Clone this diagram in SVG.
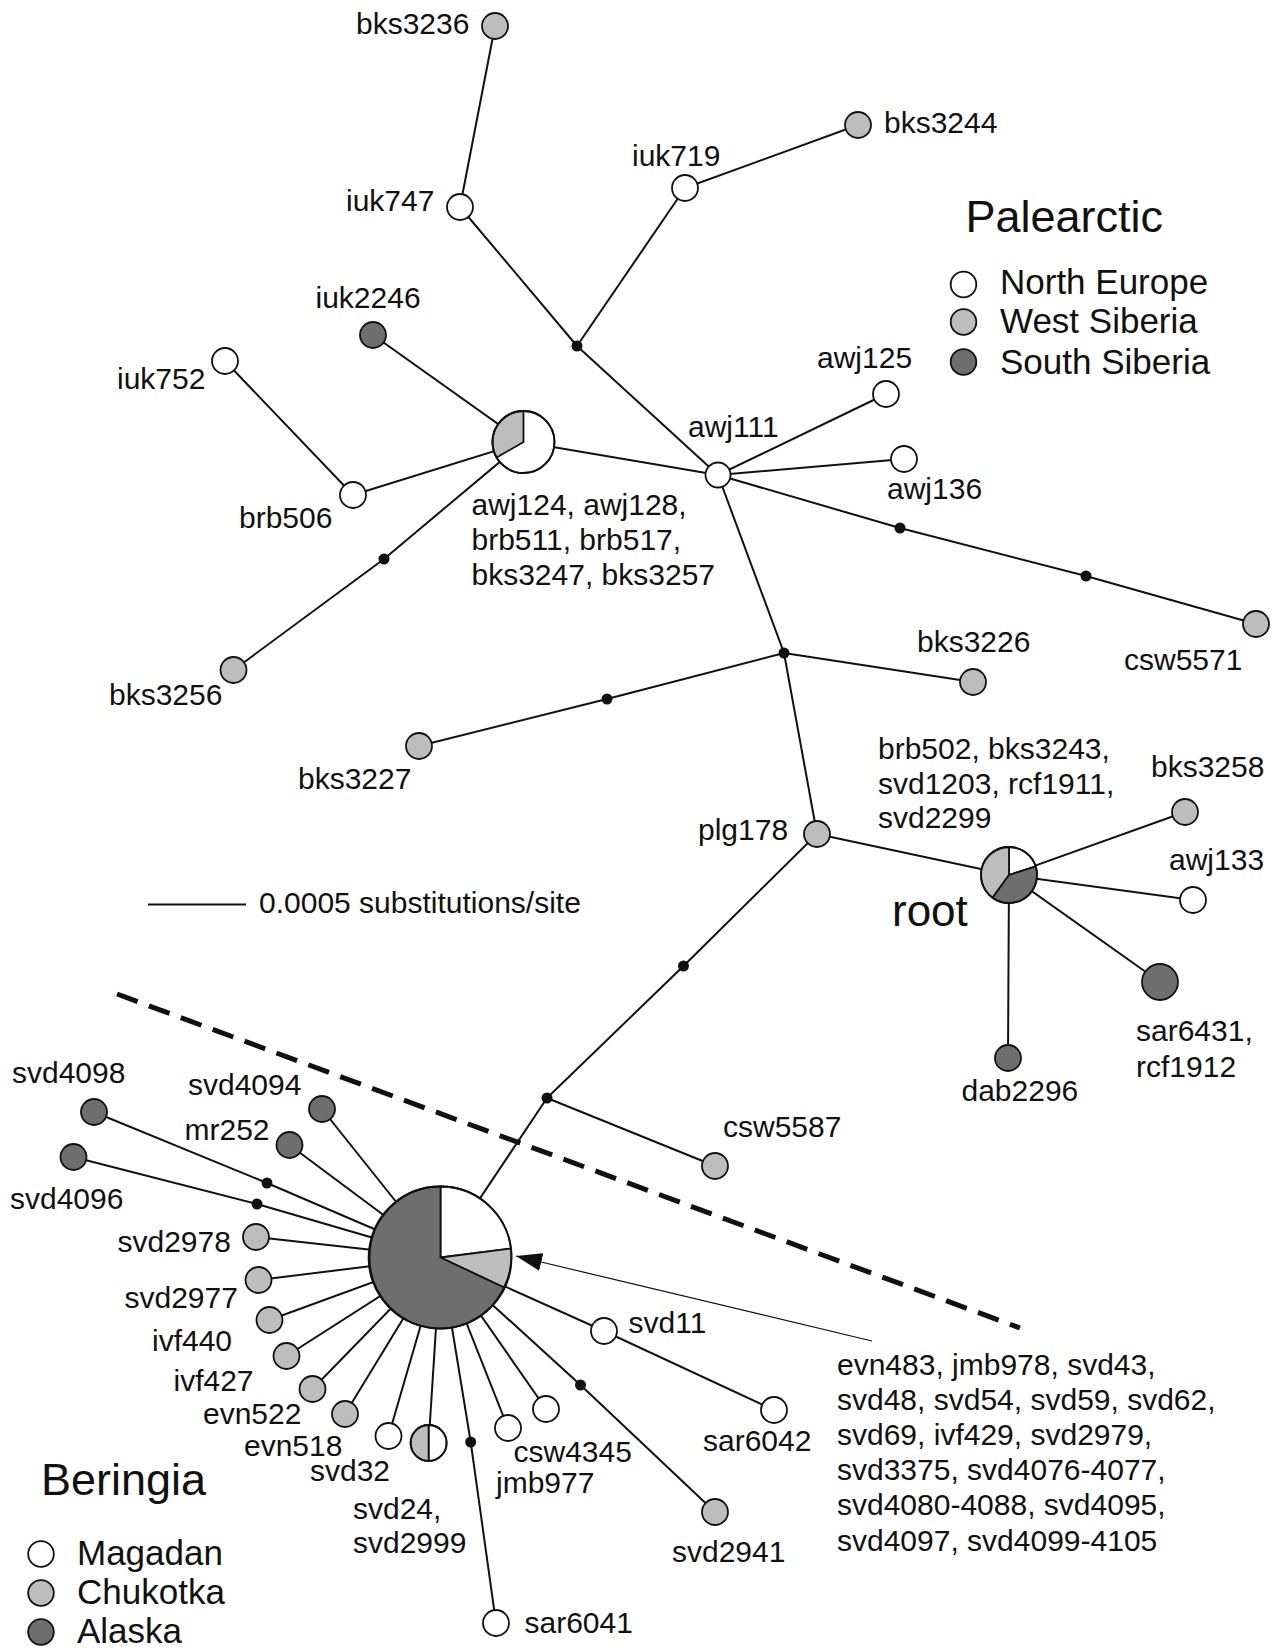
<svg xmlns="http://www.w3.org/2000/svg" width="1278" height="1649" viewBox="0 0 1278 1649">
<style>
text{font-family:"Liberation Sans",Arial,sans-serif;font-size:30px;fill:#111}
.big{font-size:45px}
.leg{font-size:35px}
.e{fill:none;stroke:#111;stroke-width:2;stroke-linejoin:round}
.w{fill:#fff;stroke:#111;stroke-width:1.8}
.l{fill:#bdbdbd;stroke:#111;stroke-width:1.8}
.d{fill:#6e6e6e;stroke:#111;stroke-width:1.8}
.dot{fill:#111}
</style>
<defs>
<marker id="arr" viewBox="0 -9 26 18" refX="26" refY="0" markerWidth="26" markerHeight="18" markerUnits="userSpaceOnUse" orient="auto"><path d="M0,-9 L26,0 L0,9 Z" fill="#111"/></marker>
</defs>
<rect width="1278" height="1649" fill="#fff"/>
<g id="connectors">
<polyline class="e" points="495,26 460,207 577,346 718,475"/>
<polyline class="e" points="858,125 685,188 577,346"/>
<polyline class="e" points="373,335 523.5,442 718,475"/>
<polyline class="e" points="225,361 353,495 523.5,442"/>
<polyline class="e" points="523.5,442 384,559 233.5,670"/>
<polyline class="e" points="886,394 718,475 904,459"/>
<polyline class="e" points="718,475 900,528 1086,576 1256,624"/>
<polyline class="e" points="718,475 784,653 817,834 1009,875"/>
<polyline class="e" points="973,682 784,653 607,699 419,746"/>
<polyline class="e" points="1185,812 1009,875 1193,900"/>
<polyline class="e" points="1160,982 1009,875 1008,1058"/>
<polyline class="e" points="817,834 683.5,966 547,1098 440.5,1257.5"/>
<polyline class="e" points="547,1098 715,1166"/>
<polyline class="e" points="94,1112 267,1183 440.5,1257.5"/>
<polyline class="e" points="73.5,1157 257,1204 440.5,1257.5"/>
<polyline class="e" points="322,1109 440.5,1257.5"/>
<polyline class="e" points="289.5,1145 440.5,1257.5"/>
<polyline class="e" points="256,1237 440.5,1257.5"/>
<polyline class="e" points="258.5,1280 440.5,1257.5"/>
<polyline class="e" points="269.5,1320 440.5,1257.5"/>
<polyline class="e" points="286.5,1356 440.5,1257.5"/>
<polyline class="e" points="312.5,1389 440.5,1257.5"/>
<polyline class="e" points="345,1414 440.5,1257.5"/>
<polyline class="e" points="388.5,1436 440.5,1257.5"/>
<polyline class="e" points="428.6,1443 440.5,1257.5"/>
<polyline class="e" points="496,1623 470.7,1442 440.5,1257.5"/>
<polyline class="e" points="508,1428 440.5,1257.5"/>
<polyline class="e" points="546,1409 440.5,1257.5"/>
<polyline class="e" points="715,1512 580.5,1385 440.5,1257.5"/>
<polyline class="e" points="774,1410 604,1331 440.5,1257.5"/>
<line x1="117" y1="994" x2="1020" y2="1328" stroke="#111" stroke-width="5" stroke-dasharray="22,12"/>
<line x1="872" y1="1341" x2="516" y2="1256" stroke="#111" stroke-width="1.2" marker-end="url(#arr)"/>
<line x1="148" y1="904.5" x2="246" y2="904.5" stroke="#111" stroke-width="2"/>
</g>
<g id="dots">
<circle class="dot" cx="577" cy="346" r="5.5"/>
<circle class="dot" cx="384" cy="559" r="5.5"/>
<circle class="dot" cx="900" cy="528" r="5.5"/>
<circle class="dot" cx="1086" cy="576" r="5.5"/>
<circle class="dot" cx="784" cy="653" r="5.5"/>
<circle class="dot" cx="607" cy="699" r="5.5"/>
<circle class="dot" cx="683.5" cy="966" r="5.5"/>
<circle class="dot" cx="547" cy="1098" r="5.5"/>
<circle class="dot" cx="267" cy="1183" r="5.5"/>
<circle class="dot" cx="257" cy="1204" r="5.5"/>
<circle class="dot" cx="470.7" cy="1442" r="5.5"/>
<circle class="dot" cx="580.5" cy="1385" r="5.5"/>
</g>
<g id="n-bks3236"><circle class="l" cx="495" cy="26" r="13"/><text x="356" y="34">bks3236</text></g>
<g id="n-bks3244"><circle class="l" cx="858" cy="125" r="13"/><text x="884" y="133">bks3244</text></g>
<g id="n-iuk719"><circle class="w" cx="685" cy="188" r="13"/><text x="632" y="166">iuk719</text></g>
<g id="n-iuk747"><circle class="w" cx="460" cy="207" r="13"/><text x="346" y="211">iuk747</text></g>
<g id="n-iuk2246"><circle class="d" cx="373" cy="335" r="13"/><text x="315.5" y="308">iuk2246</text></g>
<g id="n-iuk752"><circle class="w" cx="225" cy="361" r="13"/><text x="117" y="389">iuk752</text></g>
<g id="n-brb506"><circle class="w" cx="353" cy="495" r="13"/><text x="239" y="528">brb506</text></g>
<g id="n-pie1">
<circle class="w" cx="523.5" cy="442" r="31"/>
<path class="l" d="M523.5,442 L523.5,411 A31,31 0 0 0 496.65,457.5 Z"/>
<circle cx="523.5" cy="442" r="31" fill="none" stroke="#111" stroke-width="1.8"/>
<text x="471.5" y="515">awj124, awj128,</text>
<text x="471.5" y="550">brb511, brb517,</text>
<text x="471.5" y="585">bks3247, bks3257</text>
</g>
<g id="n-bks3256"><circle class="l" cx="233.5" cy="670" r="13"/><text x="109" y="705">bks3256</text></g>
<g id="n-awj111"><circle class="w" cx="718" cy="475" r="12.5"/><text x="688" y="437">awj111</text></g>
<g id="n-awj125"><circle class="w" cx="886" cy="394" r="13"/><text x="817" y="367.5">awj125</text></g>
<g id="n-awj136"><circle class="w" cx="904" cy="459" r="13"/><text x="887" y="499">awj136</text></g>
<g id="n-csw5571"><circle class="l" cx="1256" cy="624" r="13"/><text x="1124" y="670">csw5571</text></g>
<g id="n-bks3226"><circle class="l" cx="973" cy="682" r="13"/><text x="917" y="652">bks3226</text></g>
<g id="n-bks3227"><circle class="l" cx="419" cy="746" r="13"/><text x="298" y="789">bks3227</text></g>
<g id="n-plg178"><circle class="l" cx="817" cy="834" r="13"/><text x="698" y="840">plg178</text></g>
<g id="n-root">
<path class="w" d="M1009,875 L1009,847 A28,28 0 0 1 1035.6,866.3 Z"/>
<path class="l" d="M1009,875 L1009,847 A28,28 0 0 0 992.5,897.7 Z"/>
<path class="d" d="M1009,875 L992.5,897.7 A28,28 0 0 0 1035.6,866.3 Z"/>
<circle cx="1009" cy="875" r="28" fill="none" stroke="#111" stroke-width="1.8"/>
<text x="878" y="759">brb502, bks3243,</text>
<text x="878" y="794">svd1203, rcf1911,</text>
<text x="878" y="828">svd2299</text>
<text style="font-size:44px" x="892" y="926">root</text>
</g>
<g id="n-bks3258"><circle class="l" cx="1185" cy="812" r="13"/><text x="1151" y="777">bks3258</text></g>
<g id="n-awj133"><circle class="w" cx="1193" cy="900" r="13"/><text x="1169" y="870">awj133</text></g>
<g id="n-sar6431"><circle class="d" cx="1160" cy="982" r="18"/><text x="1136" y="1041">sar6431,</text><text x="1136" y="1077">rcf1912</text></g>
<g id="n-dab2296"><circle class="d" cx="1008" cy="1058" r="13"/><text x="961.5" y="1101">dab2296</text></g>
<g id="n-csw5587"><circle class="l" cx="715" cy="1166" r="13"/><text x="723" y="1137">csw5587</text></g>
<g id="n-pie2">
<path class="w" d="M440.5,1257.5 L440.5,1186.5 A71,71 0 0 1 511,1248.5 Z"/>
<path class="l" d="M440.5,1257.5 L511,1248.5 A71,71 0 0 1 504,1287.5 Z"/>
<path class="d" d="M440.5,1257.5 L504,1287.5 A71,71 0 1 1 440.5,1186.5 Z"/>
<circle cx="440.5" cy="1257.5" r="71" fill="none" stroke="#111" stroke-width="1.8"/>
<text x="837" y="1374.6">evn483, jmb978, svd43,</text>
<text x="837" y="1409.8">svd48, svd54, svd59, svd62,</text>
<text x="837" y="1445">svd69, ivf429, svd2979,</text>
<text x="837" y="1480.2">svd3375, svd4076-4077,</text>
<text x="837" y="1515.4">svd4080-4088, svd4095,</text>
<text x="837" y="1550.6">svd4097, svd4099-4105</text>
</g>
<g id="n-svd4098"><circle class="d" cx="94" cy="1112" r="13"/><text x="12" y="1083">svd4098</text></g>
<g id="n-svd4094"><circle class="d" cx="322" cy="1109" r="13"/><text x="188" y="1095">svd4094</text></g>
<g id="n-mr252"><circle class="d" cx="289.5" cy="1145" r="13"/><text x="184.5" y="1140">mr252</text></g>
<g id="n-svd4096"><circle class="d" cx="73.5" cy="1157" r="13"/><text x="10" y="1209">svd4096</text></g>
<g id="n-svd2978"><circle class="l" cx="256" cy="1237" r="13"/><text x="117.5" y="1252">svd2978</text></g>
<g id="n-svd2977"><circle class="l" cx="258.5" cy="1280" r="13"/><text x="124.5" y="1308">svd2977</text></g>
<g id="n-ivf440"><circle class="l" cx="269.5" cy="1320" r="13"/><text x="152" y="1351">ivf440</text></g>
<g id="n-ivf427"><circle class="l" cx="286.5" cy="1356" r="13"/><text x="173.5" y="1391">ivf427</text></g>
<g id="n-evn522"><circle class="l" cx="312.5" cy="1389" r="13"/><text x="203" y="1424">evn522</text></g>
<g id="n-evn518"><circle class="l" cx="345" cy="1414" r="13"/><text x="244" y="1456">evn518</text></g>
<g id="n-svd32"><circle class="w" cx="388.5" cy="1436" r="13"/><text x="310" y="1481">svd32</text></g>
<g id="n-svd24">
<path class="w" d="M428.6,1425 A18,18 0 0 1 428.6,1461 Z"/>
<path class="l" d="M428.6,1425 A18,18 0 0 0 428.6,1461 Z"/>
<circle cx="428.6" cy="1443" r="18" fill="none" stroke="#111" stroke-width="1.8"/>
<text x="353" y="1519">svd24,</text><text x="353" y="1553">svd2999</text>
</g>
<g id="n-sar6041"><circle class="w" cx="496" cy="1623" r="13"/><text x="524.5" y="1633">sar6041</text></g>
<g id="n-jmb977"><circle class="w" cx="508" cy="1428" r="13"/><text x="496" y="1492.5">jmb977</text></g>
<g id="n-csw4345"><circle class="w" cx="546" cy="1409" r="13"/><text x="513.5" y="1461.5">csw4345</text></g>
<g id="n-svd2941"><circle class="l" cx="715" cy="1512" r="13"/><text x="672" y="1562">svd2941</text></g>
<g id="n-svd11"><circle class="w" cx="604" cy="1331" r="13"/><text x="628.5" y="1333">svd11</text></g>
<g id="n-sar6042"><circle class="w" cx="774" cy="1410" r="13"/><text x="703" y="1451">sar6042</text></g>
<g id="scale"><text x="259" y="913">0.0005 substitutions/site</text></g>
<g id="legend-palearctic">
<text class="big" x="965.5" y="232">Palearctic</text>
<circle class="w" cx="963.5" cy="284.5" r="12.8"/><text class="leg" x="1000" y="294">North Europe</text>
<circle class="l" cx="963.5" cy="322" r="12.8"/><text class="leg" x="1000" y="333">West Siberia</text>
<circle class="d" cx="963.5" cy="362" r="12.8"/><text class="leg" x="1000" y="374">South Siberia</text>
</g>
<g id="legend-beringia">
<text class="big" x="41" y="1495">Beringia</text>
<circle class="w" cx="41" cy="1554" r="12.8"/><text class="leg" x="77" y="1565">Magadan</text>
<circle class="l" cx="41" cy="1593" r="12.8"/><text class="leg" x="77" y="1604">Chukotka</text>
<circle class="d" cx="41" cy="1632" r="12.8"/><text class="leg" x="77" y="1643">Alaska</text>
</g>
</svg>
